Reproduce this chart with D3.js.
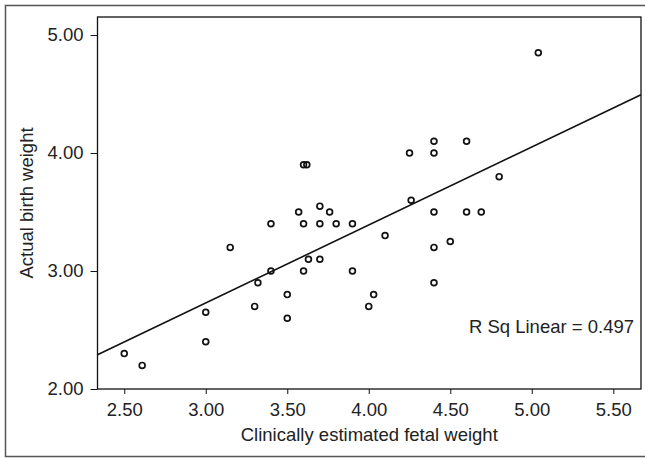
<!DOCTYPE html>
<html>
<head>
<meta charset="utf-8">
<script src="https://cdn.jsdelivr.net/npm/d3@7"></script>
<style>
  body { margin: 0; background: #fff; }
  svg { display: block; }
  text { font-family: 'Liberation Sans', Arial, sans-serif; fill: #222; }
  .axis path, .axis line { stroke: #111; }
  .axis text { font-size: 18.5px; fill: #222; }
</style>
</head>
<body>
<div id="chart"></div>
<script>
// values
var estimated = [2.50, 2.61, 3.00, 3.00, 3.15, 3.30, 3.32, 3.40, 3.40, 3.50,
  3.50, 3.57, 3.60, 3.62, 3.70, 3.76, 3.60, 3.70, 3.80, 3.90,
  3.63, 3.70, 3.60, 3.90, 4.10, 4.03, 4.00, 4.25, 4.40, 4.40,
  4.60, 4.26, 4.40, 4.60, 4.40, 4.50, 4.40, 5.04, 4.80, 4.69]
var actual = [2.30, 2.20, 2.65, 2.40, 3.20, 2.70, 2.90, 3.40, 3.00, 2.80,
  2.60, 3.50, 3.90, 3.90, 3.55, 3.50, 3.40, 3.40, 3.40, 3.40,
  3.10, 3.10, 3.00, 3.00, 3.30, 2.80, 2.70, 4.00, 4.10, 4.00,
  4.10, 3.60, 3.50, 3.50, 3.20, 3.25, 2.90, 4.85, 3.80, 3.50]
var xTicks = [2.5, 3.0, 3.5, 4.0, 4.5, 5.0, 5.5]
var yTicks = [2.0, 3.0, 4.0, 5.0]
var rSqLabel = 'R Sq Linear = 0.497'

var margin = { top: 17, left: 97.5, right: 4, bottom: 69 }
var width = 645 - margin.left - margin.right
var height = 458 - margin.top - margin.bottom

var root = d3.select('#chart')
  .append('svg')
  .attr('width', 645)
  .attr('height', 458)

// outer frame of the figure
root.append('rect')
  .attr('x', 5.5)
  .attr('y', 5.5)
  .attr('width', 650)
  .attr('height', 451)
  .attr('fill', 'none')
  .attr('stroke', '#555')
  .attr('stroke-width', 1.5)

var svg = root.append('g')
  .attr('transform', 'translate(' + margin.left + ',' + margin.top + ')')

var xPositionScale = d3.scaleLinear().domain([2.336, 5.67]).range([0, width])
var yPositionScale = d3.scaleLinear().domain([2.0, 5.153]).range([height, 0])

var points = estimated.map((x, i) => ({ x: x, y: actual[i] }))

// least squares fit
var mx = d3.mean(points, d => d.x)
var my = d3.mean(points, d => d.y)
var slope = d3.sum(points, d => (d.x - mx) * (d.y - my)) / d3.sum(points, d => (d.x - mx) * (d.x - mx))
var intercept = my - slope * mx

var xDom = xPositionScale.domain()
var fit = xDom.map(x => ({ x: x, y: intercept + slope * x }))

var line = d3.line()
  .x(d => xPositionScale(d.x))
  .y(d => yPositionScale(d.y))

svg.append('path')
  .datum(fit)
  .attr('d', line)
  .attr('fill', 'none')
  .attr('stroke', '#111')
  .attr('stroke-width', 1.6)

svg.selectAll('.dot')
  .data(points)
  .enter()
  .append('circle')
  .attr('class', 'dot')
  .attr('cx', d => xPositionScale(d.x))
  .attr('cy', d => yPositionScale(d.y))
  .attr('r', 2.9)
  .attr('fill', 'none')
  .attr('stroke', '#111')
  .attr('stroke-width', 1.7)

// plot frame
svg.append('rect')
  .attr('width', width)
  .attr('height', height)
  .attr('fill', 'none')
  .attr('stroke', '#111')
  .attr('stroke-width', 1.3)

var xAxis = d3.axisBottom(xPositionScale)
  .tickValues(xTicks)
  .tickFormat(d3.format('.2f'))
  .tickSize(5)
  .tickSizeOuter(0)
  .tickPadding(9)

svg.append('g')
  .attr('class', 'axis x-axis')
  .attr('transform', 'translate(0,' + height + ')')
  .call(xAxis)
  .call(g => g.select('.domain').remove())

var yAxis = d3.axisLeft(yPositionScale)
  .tickValues(yTicks)
  .tickFormat(d3.format('.2f'))
  .tickSize(7)
  .tickSizeOuter(0)
  .tickPadding(7)

svg.append('g')
  .attr('class', 'axis y-axis')
  .call(yAxis)
  .call(g => g.select('.domain').remove())

svg.selectAll('.axis .tick text').attr('font-family', null)

svg.append('text')
  .text('Clinically estimated fetal weight')
  .attr('x', width / 2)
  .attr('y', height + 52)
  .attr('text-anchor', 'middle')
  .attr('font-size', 18.5)

svg.append('text')
  .text('Actual birth weight')
  .attr('transform', 'translate(' + (32.5 - margin.left) + ',' + (height / 2) + ') rotate(-90)')
  .attr('text-anchor', 'middle')
  .attr('font-size', 18.5)

svg.append('text')
  .text(rSqLabel)
  .attr('x', width - 7)
  .attr('y', yPositionScale(2.0) - 56)
  .attr('text-anchor', 'end')
  .attr('font-size', 18.5)
</script>
</body>
</html>
